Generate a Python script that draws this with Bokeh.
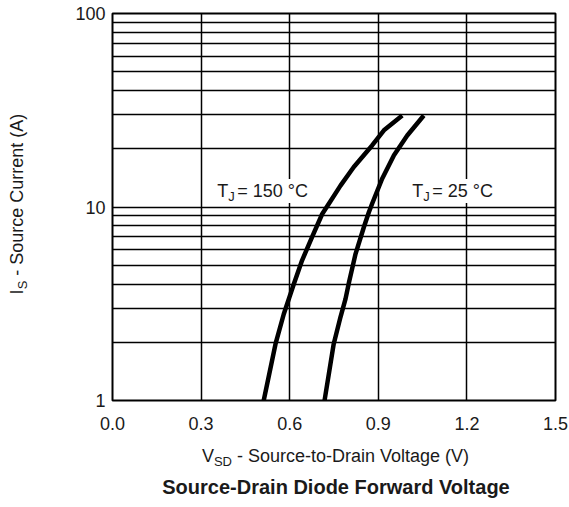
from bokeh.plotting import figure
from bokeh.models import FixedTicker, NumeralTickFormatter, Label, Range1d, Div
from bokeh.layouts import row, column
from bokeh.embed import file_html
from bokeh.resources import INLINE

# ---- data ----
v_150 = [0.512, 0.552, 0.580, 0.614, 0.642, 0.676, 0.710, 0.738, 0.772, 0.817, 0.879, 0.919, 0.981]
i_150 = [1.0, 1.96, 2.8, 4.0, 5.3, 7.0, 9.2, 10.7, 12.9, 16.1, 20.8, 24.9, 29.7]
v_25 = [0.718, 0.749, 0.772, 0.789, 0.801, 0.823, 0.851, 0.868, 0.879, 0.913, 0.953, 0.998, 1.054]
i_25 = [1.0, 1.96, 2.7, 3.35, 4.1, 5.73, 7.86, 9.4, 10.4, 14.0, 18.5, 23.4, 29.7]

x_ticks = [0.0, 0.3, 0.6, 0.9, 1.2, 1.5]
x_grid = [0.3, 0.6, 0.9, 1.2]
y_ticks = [1, 10, 100]
y_grid = [2, 3, 4, 5, 6, 7, 8, 9, 10, 20, 30, 40, 50, 60, 70, 80, 90]

FONT = "Liberation Sans"
TXT = "#1a1a1a"

p = figure(width=533, height=432,
           x_range=Range1d(0, 1.5), y_range=Range1d(1, 100),
           y_axis_type="log", output_backend="svg", toolbar_location=None,
           min_border_left=76, min_border_right=14, min_border_top=13,
           min_border_bottom=32)

p.background_fill_color = "white"
p.border_fill_color = "white"
p.outline_line_color = "black"
p.outline_line_width = 2
p.outline_line_alpha = 1

p.xgrid.ticker = FixedTicker(ticks=x_grid)
p.ygrid.ticker = FixedTicker(ticks=y_grid)
for g in (p.xgrid, p.ygrid):
    g.grid_line_color = "black"
    g.grid_line_width = 1.5
    g.grid_line_alpha = 1

p.xaxis.ticker = FixedTicker(ticks=x_ticks)
p.xaxis.formatter = NumeralTickFormatter(format="0.0")
p.yaxis.ticker = FixedTicker(ticks=y_ticks)
p.yaxis.formatter = NumeralTickFormatter(format="0")
for ax in (p.xaxis, p.yaxis):
    ax.axis_line_color = None
    ax.major_tick_line_color = None
    ax.minor_tick_line_color = None
    ax.major_tick_out = 0
    ax.major_tick_in = 0
    ax.major_label_text_font = FONT
    ax.major_label_text_font_size = "18px"
    ax.major_label_text_color = TXT
p.xaxis.major_label_standoff = 16
p.yaxis.major_label_standoff = 7

p.line(v_150, i_150, line_color="black", line_width=4.5, line_join="round")
p.line(v_25, i_25, line_color="black", line_width=4.5, line_join="round")


def lab(x, y, text, size="18px", xo=0, yo=0, bg=None):
    kw = dict(x=x, y=y, text=text,
              text_font=FONT, text_font_size=size, text_color=TXT,
              text_baseline="alphabetic", text_align="left",
              x_offset=xo, y_offset=yo)
    if bg:
        kw.update(background_fill_color=bg, padding=2)
    p.add_layout(Label(**kw))


# curve annotations (data units)
lab_y = 12.1
for x0, txt in ((0.3545, " = 150 \u00b0C"), (1.0148, " = 25 \u00b0C")):
    lab(x0, lab_y, "T")
    lab(x0, lab_y, "J", size="13px", xo=11, yo=-6)
    lab(x0, lab_y, txt, xo=18, bg="white")

BASE = f"font-family:'{FONT}';color:{TXT};white-space:nowrap;"
SUB = "font-size:13px;position:relative;top:3.5px;"

# rotated y-axis title
ydiv = Div(width=36, height=499, margin=0, text=(
    '<div style="position:relative;width:36px;height:499px;">'
    f'<div style="position:absolute;left:-112.8px;top:193px;width:260px;height:22px;'
    f'line-height:22px;text-align:center;font-size:18px;transform:rotate(-90deg);{BASE}">'
    f'I<span style="{SUB}">S</span> - Source Current (A)</div></div>'))

# x-axis title
xdiv = Div(width=533, height=38, margin=0, text=(
    '<div style="position:relative;width:533px;height:38px;">'
    f'<div style="position:absolute;left:99.5px;top:12.4px;width:400px;'
    f'text-align:center;font-size:18px;{BASE}">'
    f'V<span style="{SUB}">SD</span> - Source-to-Drain Voltage (V)</div></div>'))

# chart title
tdiv = Div(width=533, height=29, margin=0, text=(
    '<div style="position:relative;width:533px;height:29px;">'
    f'<div style="position:absolute;left:100px;top:2.6px;width:400px;'
    f'text-align:center;font-size:20px;font-weight:bold;{BASE}">'
    'Source-Drain Diode Forward Voltage</div></div>'))

layout = row(ydiv, column(p, xdiv, tdiv, spacing=0), spacing=0)

open("out.html", "w").write(file_html(layout, INLINE))
